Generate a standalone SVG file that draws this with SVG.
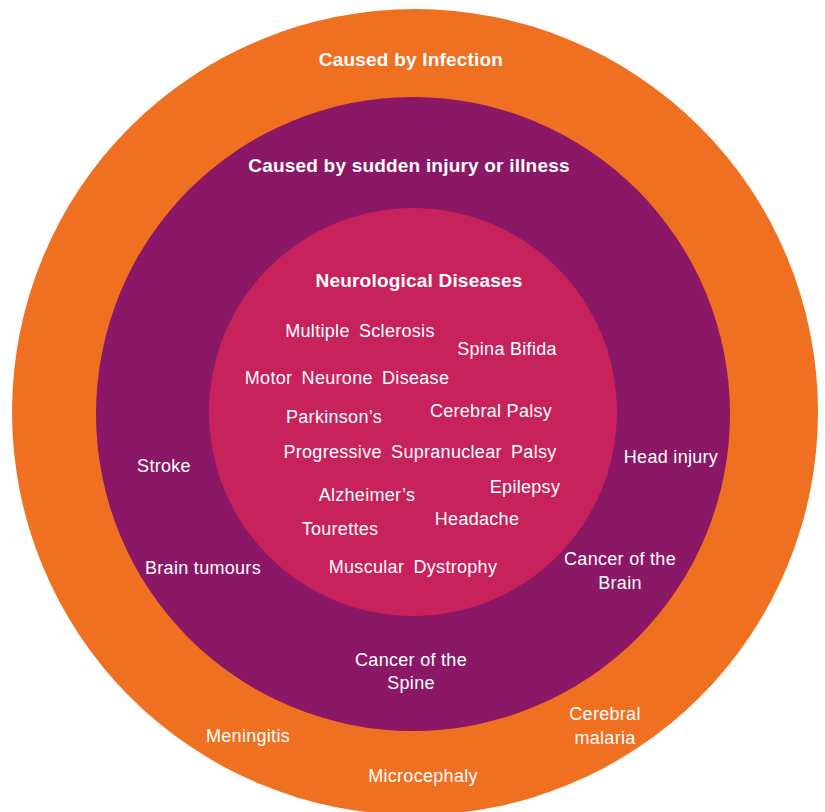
<svg xmlns="http://www.w3.org/2000/svg" width="825" height="812" viewBox="0 0 825 812">
<style>
text{font-family:"Liberation Sans",Arial,sans-serif;font-size:18px;fill:#fff;text-anchor:middle;letter-spacing:0.3px}
.t{font-weight:bold;font-size:19px;letter-spacing:0.2px}
.w{word-spacing:4px}
</style>
<rect width="825" height="812" fill="#fff"/>
<g id="infection">
<circle cx="415" cy="412" r="403" fill="#F07022"/>
<text class="t" x="411" y="66">Caused by Infection</text>
<text x="248" y="742">Meningitis</text>
<text x="423" y="782">Microcephaly</text>
<text x="605" y="720">Cerebral</text>
<text x="605" y="744">malaria</text>
</g>
<g id="injury">
<circle cx="413" cy="414" r="317" fill="#8A1866"/>
<text class="t" x="409" y="172">Caused by sudden injury or illness</text>
<text x="164" y="472">Stroke</text>
<text x="203" y="574">Brain tumours</text>
<text x="671" y="463">Head injury</text>
<text x="620" y="565">Cancer of the</text>
<text x="620" y="589">Brain</text>
<text x="411" y="666">Cancer of the</text>
<text x="411" y="689">Spine</text>
</g>
<g id="neuro">
<circle cx="413" cy="412" r="204" fill="#C7225B"/>
<text class="t" x="419" y="287">Neurological Diseases</text>
<text class="w" x="360" y="337">Multiple Sclerosis</text>
<text x="507" y="355">Spina Bifida</text>
<text class="w" x="347" y="384">Motor Neurone Disease</text>
<text x="334" y="423">Parkinson’s</text>
<text x="491" y="417">Cerebral Palsy</text>
<text class="w" x="420" y="458">Progressive Supranuclear Palsy</text>
<text x="367" y="501">Alzheimer’s</text>
<text x="525" y="493">Epilepsy</text>
<text x="340" y="535">Tourettes</text>
<text x="477" y="525">Headache</text>
<text class="w" x="413" y="573">Muscular Dystrophy</text>
</g>
<g id="connectors"/>
</svg>
